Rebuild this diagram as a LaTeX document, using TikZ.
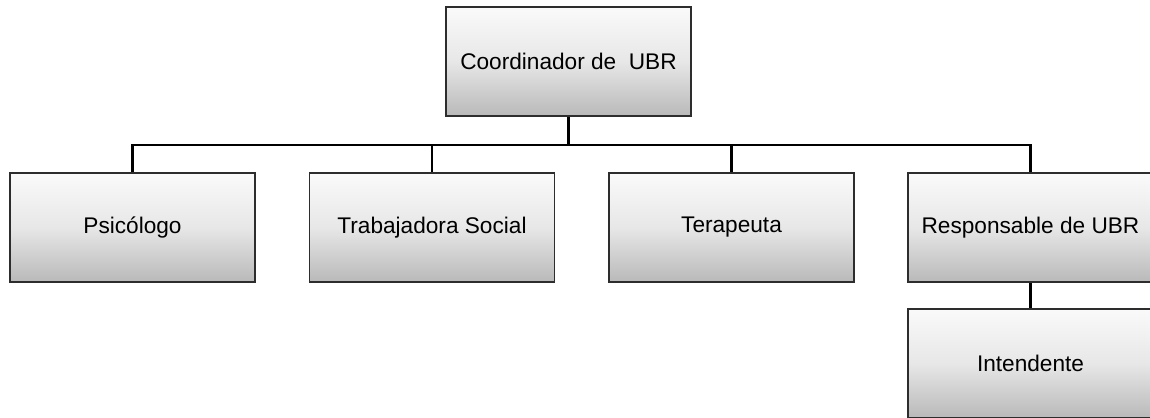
\documentclass[tikz,border=0pt]{standalone}
\usepackage{fontspec}
\setmainfont{Liberation Sans}
\usepackage{xcolor}
\definecolor{orgedge}{RGB}{45,45,45}
\definecolor{orgtop}{RGB}{250,250,250}
\definecolor{orgmid}{RGB}{231,231,231}
\definecolor{orgbot}{RGB}{185,185,185}
\usetikzlibrary{positioning,calc,shadows}
\tikzset{
  orgbox/.style={draw=orgedge, line width=1.2pt, rectangle,
                 top color=orgtop, bottom color=orgbot, middle color=orgmid,
                 font=\fontsize{16.1}{19}\selectfont,
                 minimum width=6.125cm, minimum height=2.725cm, inner sep=0pt,
                 drop shadow={shadow xshift=0.6pt, shadow yshift=-0.6pt, opacity=0.4}},
  orgline/.style={draw=black, line width=1.7pt},
}

\begin{document}
\begin{tikzpicture}[x=0.025cm, y=-0.025cm]

\clip (0,0) rectangle (1150,417);
\fill[white] (0,0) rectangle (1150,417);

% Top: coordinator
\node[orgbox] (coord) at (568.5,61.5) {Coordinador de\ \ UBR};

% Second row
\node[orgbox] (psico) at (132.5,227.5) {Psicólogo};
\node[orgbox] (social) at (432,227.5) {Trabajadora Social};
\node[orgbox] (terap) at (731.5,227.5) {Terapeuta};
\node[orgbox] (resp) at (1030.5,227.5) {Responsable de UBR};

% Third row
\node[orgbox] (intend) at (1030.5,363.5) {Intendente};

% Connectors
\coordinate (bus) at (568.5,145);
\draw[orgline] (coord.south) -- (bus);
\draw[orgline] (psico.north) |- (bus);
\draw[orgline] (social.north) |- (bus);
\draw[orgline] (terap.north) |- (bus);
\draw[orgline] (resp.north) |- (bus);
\draw[orgline] (resp.south) -- (intend.north);

\end{tikzpicture}
\end{document}
